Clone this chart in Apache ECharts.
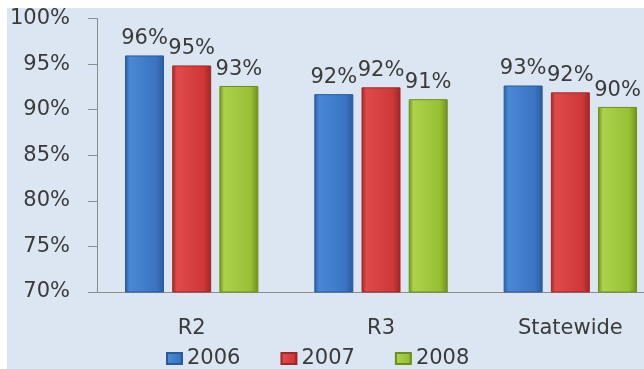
<!DOCTYPE html>
<html>
<head>
<meta charset="utf-8">
<style>
  html, body { margin: 0; padding: 0; background: #ffffff; width: 644px; height: 369px; overflow: hidden; }
  #chart { position: absolute; left: 7px; top: 8px; width: 700px; height: 361px; background: #dce6f2; }
</style>
<script src="https://cdn.jsdelivr.net/npm/echarts@6/dist/echarts.min.js"></script>
</head>
<body>
<div id="chart"></div>
<script>
// Regions on the x axis
const categories = ['R2', 'R3', 'Statewide'];
// Share per region and year, in percent
const years = ['2006', '2007', '2008'];
const values2006 = [95.95, 91.7, 92.65];
const values2007 = [94.85, 92.45, 91.9];
const values2008 = [92.6, 91.15, 90.3];
// Value axis range
const yMin = 70, yMax = 100, yStep = 5;

const FONT = 'DejaVu Sans';
const TEXT = '#3a3a3a';

// Bevelled look: darker edges, lighter body
function bevel(edge, light, mid) {
  return new echarts.graphic.LinearGradient(0, 0, 1, 0, [
    { offset: 0, color: edge },
    { offset: 0.12, color: light },
    { offset: 0.8, color: mid },
    { offset: 1, color: edge }
  ]);
}
const palette = [
  { edge: '#2a5a9c', light: '#4a88d6', mid: '#3a74c2' },
  { edge: '#9e2828', light: '#e04a4a', mid: '#cf3838' },
  { edge: '#6f8f1c', light: '#abd24a', mid: '#98c034' }
];
const seriesValues = [values2006, values2007, values2008];

const chart = echarts.init(document.getElementById('chart'), null, { renderer: 'canvas' });
chart.setOption({
  animation: false,
  backgroundColor: 'transparent',
  textStyle: { fontFamily: FONT },
  grid: { left: 86, top: 10, width: 572, height: 274, containLabel: false },
  legend: {
    data: years,
    left: 159,
    top: 340,
    padding: 0,
    itemWidth: 15,
    itemHeight: 11,
    itemGap: 40,
    textStyle: { fontFamily: FONT, fontSize: 21, color: TEXT },
    icon: 'rect'
  },
  xAxis: {
    type: 'category',
    data: categories,
    axisLine: { show: true, lineStyle: { color: '#8c8c8c', width: 1 } },
    axisTick: { show: false },
    axisLabel: { fontFamily: FONT, fontSize: 21, color: TEXT, margin: 26 },
    splitLine: { show: false }
  },
  yAxis: {
    type: 'value',
    min: yMin,
    max: yMax,
    interval: yStep,
    axisLine: { show: true, lineStyle: { color: '#8c8c8c', width: 1 } },
    axisTick: { show: true, inside: false, length: 9, lineStyle: { color: '#8c8c8c' } },
    axisLabel: { fontFamily: FONT, fontSize: 21, color: TEXT, margin: 27, formatter: '{value}%' },
    splitLine: { show: false }
  },
  series: years.map((y, i) => ({
    name: y,
    type: 'bar',
    data: seriesValues[i],
    barWidth: 39,
    barGap: '21%',
    itemStyle: {
      color: bevel(palette[i].edge, palette[i].light, palette[i].mid),
      borderColor: palette[i].edge,
      borderWidth: 1
    },
    label: {
      show: true,
      position: 'top',
      distance: 6,
      fontFamily: FONT,
      fontSize: 21,
      color: TEXT,
      formatter: p => Math.round(p.value) + '%'
    }
  }))
});
</script>
</body>
</html>
